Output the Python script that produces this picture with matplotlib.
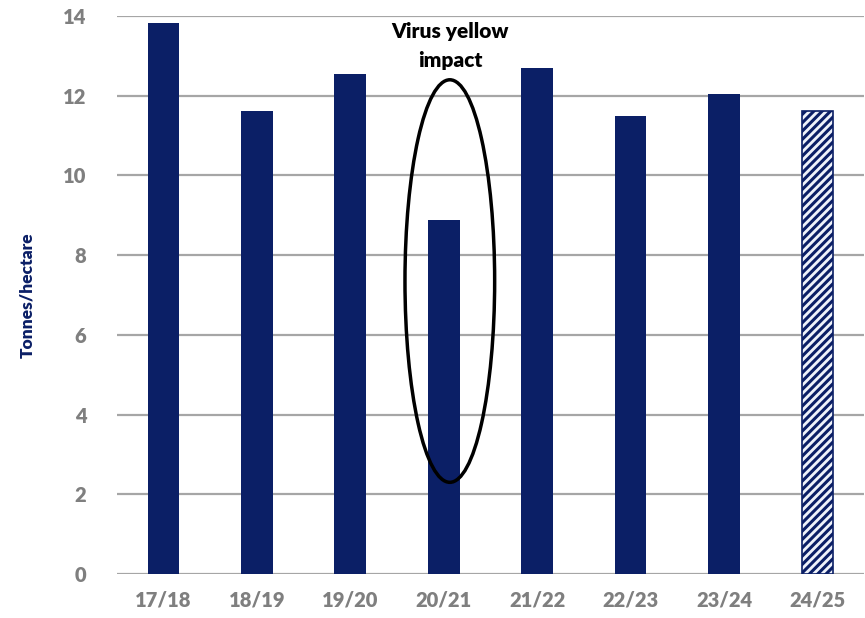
import matplotlib.pyplot as plt
from matplotlib.patches import Ellipse

# Sugar beet yield by season, the last season is a forecast
seasons = ["17/18", "18/19", "19/20", "20/21", "21/22", "22/23", "23/24", "24/25"]
yields = [13.82, 11.62, 12.54, 8.88, 12.69, 11.49, 12.04, 11.62]
forecast = [False, False, False, False, False, False, False, True]

navy = "#0b1f66"
grey = "#7f7f7f"

plt.rcParams["font.family"] = ["Lato", "DejaVu Sans"]
plt.rcParams["hatch.linewidth"] = 2.2
plt.rcParams["hatch.color"] = navy

fig = plt.figure(figsize=(8.65, 6.18), dpi=100)
ax = fig.add_axes([0.135, 0.0712, 0.864, 0.9029])

x = list(range(len(seasons)))
for i in x:
    if forecast[i]:
        ax.bar(i, yields[i], width=0.34, facecolor="#eef2fa", edgecolor=navy,
               hatch="////", linewidth=1.2, zorder=3)
    else:
        ax.bar(i, yields[i], width=0.34, color=navy, zorder=3)

ax.set_xlim(-0.5, len(seasons) - 0.5)
ax.set_ylim(0, 14)
ax.set_yticks(range(0, 15, 2))
ax.set_xticks(x)
ax.set_xticklabels(seasons)
ax.yaxis.grid(True, color="#a6a6a6", linewidth=1.6, zorder=0)
ax.set_axisbelow(True)
for s in ["top", "right", "left", "bottom"]:
    ax.spines[s].set_visible(False)
ax.tick_params(axis="both", length=0, labelsize=14.5, labelcolor=grey, pad=12)
ax.tick_params(axis="y", pad=22)
for lbl in ax.get_xticklabels() + ax.get_yticklabels():
    lbl.set_fontweight("heavy")

ax.set_ylabel("Tonnes/hectare", fontsize=12.5, fontweight="heavy", color=navy,
              labelpad=20)

# circle around the virus yellow season
ax.add_patch(Ellipse((3.065, 7.35), 0.96, 10.1, fill=False, edgecolor="black",
                     linewidth=2.5, zorder=4, clip_on=False))
ax.text(3.07, 13.25, "Virus yellow\nimpact", ha="center", va="center",
        fontsize=15, fontweight="heavy", color="black", linespacing=1.6,
        zorder=5)

fig.savefig("out.png", dpi=100)
